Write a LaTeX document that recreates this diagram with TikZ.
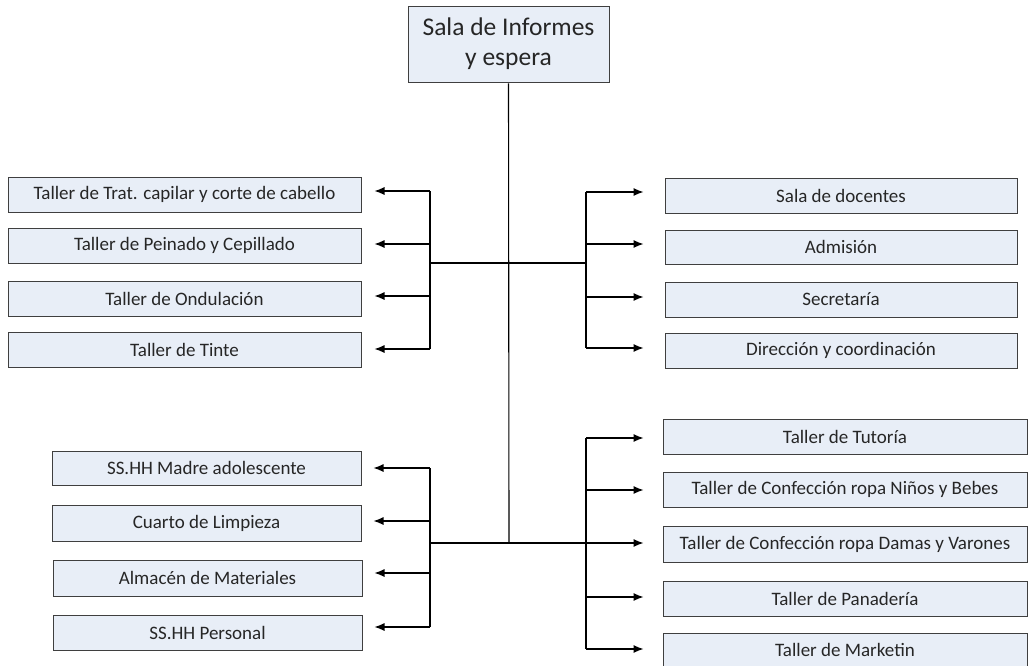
\documentclass[tikz,border=0pt]{standalone}
\usepackage{fontspec}
\setmainfont{Carlito}
\usetikzlibrary{arrows.meta}
\definecolor{boxfill}{HTML}{E8EEF7}
\definecolor{boxline}{HTML}{3F3F3F}
\tikzset{
  room/.style={draw=boxline, fill=boxfill, line width=1pt, rectangle, inner sep=0pt, font=\fontsize{19}{22}\selectfont, text=black!85},
  bus/.style={line width=1.1pt, draw=black},
  arr/.style={line width=1.1pt, draw=black, -{Latex[length=10pt,width=8pt]}},
}
\newcommand{\roombox}[6]{% name, x1, y1, x2, y2, text
  \node[room, minimum width={#4-#2}, minimum height={#5-#3}] (#1) at ({(#2+#4)/2},{(#3+#5)/2}) {#6};}
\begin{document}
\begin{tikzpicture}[x=1pt,y=-1pt]
\useasboundingbox (0,0) rectangle (1030,666);
% top
\node[room, minimum width=201, minimum height=76, font=\fontsize{25.5}{30}\selectfont] (top) at (508.5,45) {\raisebox{-3pt}{\begin{tabular}{@{}c@{}}Sala de Informes\\y espera\end{tabular}}};
% upper left
\roombox{l1}{8}{177}{361}{212}{Taller de Trat. capilar y corte de cabello}
\roombox{l2}{8}{228}{361}{263}{Taller de Peinado y Cepillado}
\roombox{l3}{8}{281}{361}{316}{Taller de Ondulación}
\roombox{l4}{8}{332}{361}{367}{Taller de Tinte}
% upper right
\roombox{r1}{665}{178}{1017}{213}{Sala de docentes}
\roombox{r2}{665}{230}{1017}{264}{Admisión}
\roombox{r3}{665}{282}{1017}{317}{Secretaría}
\roombox{r4}{665}{333}{1017}{368}{Dirección y coordinación}
% lower left
\roombox{m1}{52}{451}{361}{485}{SS.HH Madre adolescente}
\roombox{m2}{52}{505}{361}{541}{Cuarto de Limpieza}
\roombox{m3}{53}{560}{362}{596}{Almacén de Materiales}
\roombox{m4}{53}{615}{362}{650}{SS.HH Personal}
% lower right
\roombox{n1}{663}{419}{1027}{454}{Taller de Tutoría}
\roombox{n2}{663}{472}{1027}{507}{Taller de Confección ropa Niños y Bebes}
\roombox{n3}{663}{526}{1027}{562}{Taller de Confección ropa Damas y Varones}
\roombox{n4}{663}{581}{1027}{616}{Taller de Panadería}
\roombox{n5}{663}{633}{1027}{666}{Taller de Marketin}
% bus coordinates
\coordinate (c2) at (509,543);
\coordinate (la) at (430,263);
\coordinate (ra) at (586,263);
\coordinate (lb) at (430,543);
\coordinate (rb) at (586,543);
\coordinate (la1) at (430,191);
\coordinate (la2) at (430,244);
\coordinate (la3) at (430,296);
\coordinate (la4) at (430,349);
\coordinate (ra1) at (586,192);
\coordinate (ra2) at (586,244);
\coordinate (ra3) at (586,297);
\coordinate (ra4) at (586,348);
\coordinate (lb1) at (430,468);
\coordinate (lb2) at (430,521);
\coordinate (lb3) at (430,573);
\coordinate (lb4) at (430,627);
\coordinate (rb1) at (586,438);
\coordinate (rb2) at (586,490);
\coordinate (rb3) at (586,543);
\coordinate (rb4) at (586,597);
\coordinate (rb5) at (586,649);
% trunk
\draw[bus] (top.south) -- (c2);
\draw[bus] (la) -- (ra);
\draw[bus] (lb) -- (rb);
\draw[bus] (la1) -- (la4);
\draw[bus] (ra1) -- (ra4);
\draw[bus] (lb1) -- (lb4);
\draw[bus] (rb1) -- (rb5);
% arrows
\foreach \i in {1,2,3,4} \draw[arr, shorten >=13pt] (la\i) -- (la\i -| l\i.east);
\foreach \i in {1,2,3,4} \draw[arr, shorten >=21pt] (ra\i) -- (ra\i -| r\i.west);
\foreach \i in {1,2,3,4} \draw[arr, shorten >=12pt] (lb\i) -- (lb\i -| m\i.east);
\foreach \i in {1,2,3,4,5} \draw[arr, shorten >=19pt] (rb\i) -- (rb\i -| n\i.west);
\end{tikzpicture}
\end{document}
